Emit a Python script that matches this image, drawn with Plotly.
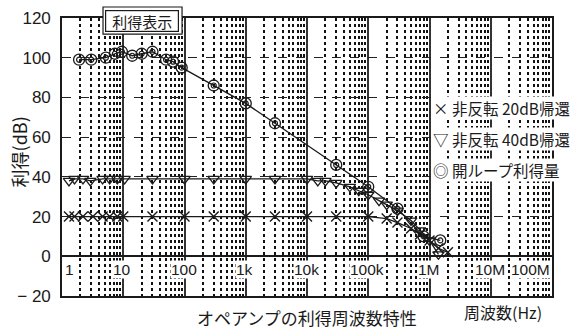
import math
import plotly.graph_objects as go

# ---------------- data ----------------
freq_x20 = [1.3, 1.6, 2.2, 3.2, 4.6, 6, 8, 10, 30, 100, 300, 1e3, 3e3, 1e4, 3e4, 1e5, 2e5, 3e5, 5e5, 7e5, 1e6, 1.4e6, 2e6]
gain_x20 = [20, 20, 20, 20, 20, 20, 20, 20, 20, 20, 20, 20, 20, 20, 20, 20, 19, 17, 14, 11, 8, 4, 2]

freq_t40 = [1.3, 1.6, 2.2, 2.9, 4.6, 6, 8, 10.5, 30, 100, 300, 1e3, 3e3, 1e4, 1.5e4, 2e4, 3e4, 5e4, 7e4, 1e5, 1.5e5, 2e5, 3e5, 5e5, 7e5, 1e6, 1.4e6]
gain_t40 = [38, 39, 39, 38, 39, 39, 39, 39, 39, 39, 39, 39, 39, 39, 38, 38, 37, 35, 33, 31, 28, 26, 23, 18, 13, 8, 1]

freq_ol = [1.9, 3, 5.2, 7.3, 9.5, 14, 20, 30, 50, 65, 90, 300, 1e3, 3e3, 3e4, 1e5, 3e5, 8e5, 1.5e6]
gain_ol = [99, 99, 100, 102, 103, 101, 102, 103, 99, 98, 95, 86, 77, 67, 46, 35, 24, 10, 8]

names = ["非反転 20dB帰還", "非反転 40dB帰還", "開ループ利得量"]
legend_glyphs = ["×", "▽", "◎"]
x_tickvals = [1, 10, 100, 1e3, 1e4, 1e5, 1e6, 1e7, 1e8]
x_ticktext = ["1", "10", "100", "1k", "10k", "100k", "1M", "10M", "100M"]
y_tickvals = [-20, 0, 20, 40, 60, 80, 100, 120]
y_ticktext = ["\u2212 20", "0", "20", "40", "60", "80", "100", "120"]

NUMF = "Liberation Sans, Arial, sans-serif"
CJK = "Noto Sans CJK JP, sans-serif"
INK = "#1a1a1a"

fig = go.Figure()

line_style = dict(color=INK, width=1.3)
fig.add_trace(go.Scatter(x=freq_x20, y=gain_x20, mode="lines+markers", line=line_style, name=names[0],
                         marker=dict(symbol="x-thin-open", size=10, color=INK, line=dict(color=INK, width=1.4)),
                         showlegend=False))
fig.add_trace(go.Scatter(x=freq_t40, y=gain_t40, mode="lines+markers", line=line_style, name=names[1],
                         marker=dict(symbol="triangle-down-open", size=10, color=INK, line=dict(color=INK, width=1.3)),
                         showlegend=False))
fig.add_trace(go.Scatter(x=freq_ol, y=gain_ol, mode="lines+markers", line=line_style, name=names[2],
                         marker=dict(symbol="circle-open", size=11, color=INK, line=dict(color=INK, width=1.3)),
                         showlegend=False))
fig.add_trace(go.Scatter(x=freq_ol, y=gain_ol, mode="markers",
                         marker=dict(symbol="circle-open", size=5, color=INK, line=dict(color=INK, width=1.2)),
                         showlegend=False, hoverinfo="skip"))

# legend rows (text with white background, gridlines visible between rows)
leg_y = [0.676, 0.565, 0.453]
for g, nm, yy in zip(legend_glyphs, names, leg_y):
    fig.add_annotation(x=0.755, y=yy, xref="paper", yref="paper", text=g + " " + nm, showarrow=False,
                       xanchor="left", yanchor="middle",
                       font=dict(family=CJK, size=15.5, color=INK), bgcolor="white", borderpad=0)

# x tick labels drawn inside the plot, just under the 0 dB line
for i, (v, t) in enumerate(zip(x_tickvals, x_ticktext)):
    anchor = "center"
    if i == 0:
        anchor = "left"
    elif i == len(x_tickvals) - 1:
        anchor = "right"
    fig.add_annotation(x=math.log10(v), y=0, xref="x", yref="y", text=t, showarrow=False,
                       xanchor=anchor, yanchor="top", yshift=-4, xshift=2 if i == 0 else -1,
                       font=dict(family=NUMF, size=15.5, color=INK),
                       bgcolor="white", borderpad=0)

# "利得表示" button-like box (double border)
fig.add_shape(type="rect", xref="paper", yref="paper", x0=0.0837, x1=0.245, y0=0.942, y1=1.0396,
              line=dict(color=INK, width=1.2), fillcolor="white", layer="above")
fig.add_annotation(x=0.1633, y=0.989, xref="paper", yref="paper", text="利得表示", showarrow=False,
                   xanchor="center", yanchor="middle", width=70, height=18,
                   font=dict(family=CJK, size=15, color=INK),
                   bgcolor="white", bordercolor=INK, borderwidth=1.2, borderpad=1)

# axis titles
fig.add_annotation(x=-0.0878, y=0.52, xref="paper", yref="paper", text="利得(dB)", showarrow=False,
                   xanchor="center", yanchor="middle",
                   textangle=-90, font=dict(family=CJK, size=18, color=INK))
fig.add_annotation(x=0.9, y=-0.0576, xref="paper", yref="paper", text="周波数(Hz)", showarrow=False,
                   xanchor="center", yanchor="middle", font=dict(family=CJK, size=16, color=INK))
fig.add_annotation(x=0.5, y=-0.079, xref="paper", yref="paper", text="オペアンプの利得周波数特性",
                   showarrow=False, xanchor="center", yanchor="middle",
                   font=dict(family=CJK, size=17, color=INK))

fig.update_xaxes(type="log", range=[0, 8], showticklabels=False, ticks="", automargin=False,
                 tickvals=x_tickvals,
                 showgrid=True, gridcolor="#333", gridwidth=1.6, griddash="solid",
                 minor=dict(dtick="D1", showgrid=True, gridcolor="#111", gridwidth=1.5, griddash="dot", ticks=""),
                 showline=True, mirror=True, linecolor=INK, linewidth=1.6, zeroline=False)
fig.update_yaxes(range=[-20, 120], tickvals=y_tickvals, ticktext=y_ticktext, ticks="", automargin=False,
                 tickfont=dict(family=NUMF, size=17, color=INK), ticklabelstandoff=6,
                 showgrid=True, gridcolor="#222", gridwidth=1.4, griddash="dash",
                 zeroline=True, zerolinecolor=INK, zerolinewidth=1.6,
                 showline=True, mirror=True, linecolor=INK, linewidth=1.6)

fig.update_layout(
    width=572, height=329,
    margin=dict(l=62, r=20, t=18, b=33, autoexpand=False),
    paper_bgcolor="white", plot_bgcolor="white",
    showlegend=False,
)

fig.write_html("out.html", config={"displayModeBar": False},
               post_script="document.body.style.margin='0';document.body.style.overflow='hidden';")
